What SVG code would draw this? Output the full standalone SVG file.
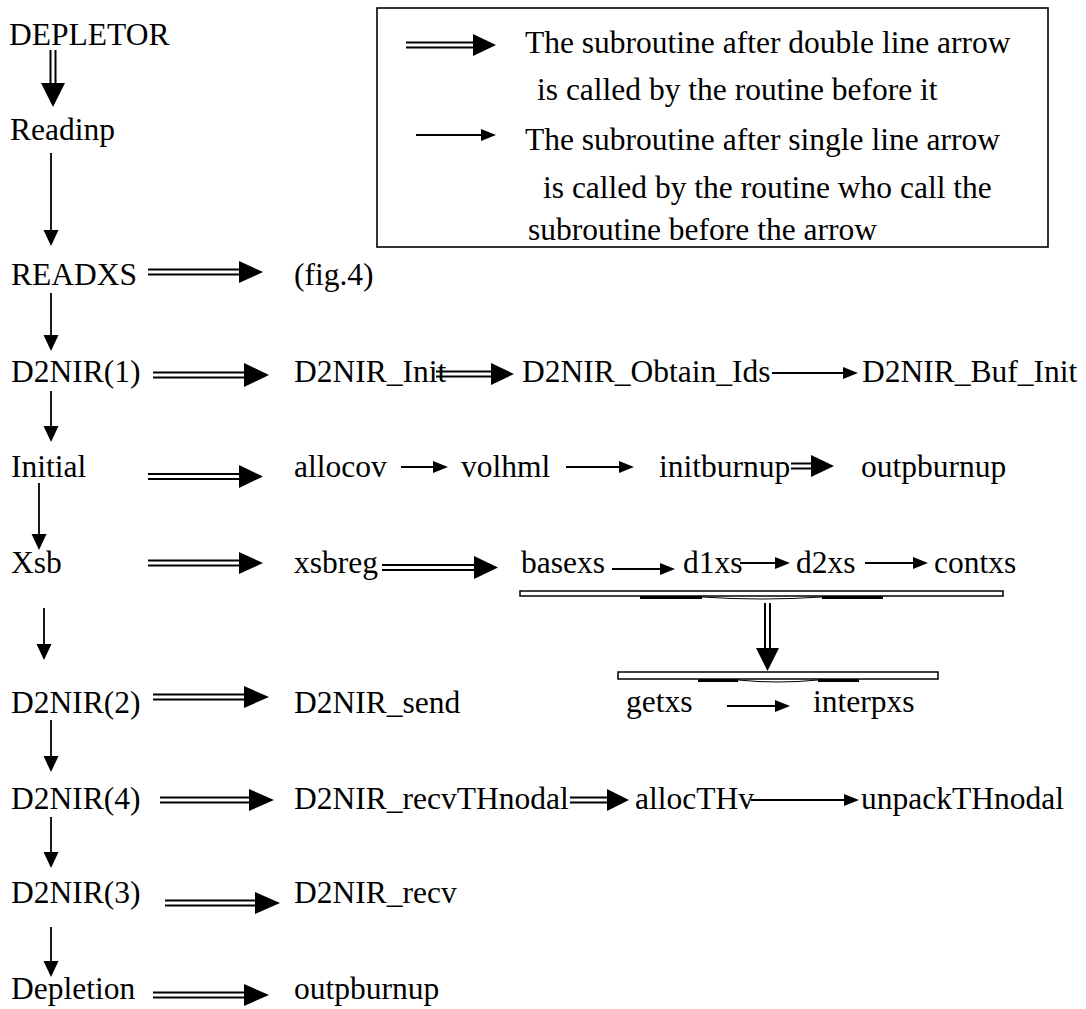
<svg xmlns="http://www.w3.org/2000/svg" width="1086" height="1009" viewBox="0 0 1086 1009">
<style>
text{font-family:"Liberation Serif","Times New Roman",serif;font-size:31.5px;fill:#000}
.dl{stroke:#000;stroke-width:2;fill:none}
.sl{stroke:#000;stroke-width:1.8;fill:none}
.hd{fill:#000;stroke:none}
.box{fill:none;stroke:#000;stroke-width:1.6}
.br{fill:#fff;stroke:#000;stroke-width:1.5}
.bt{fill:none;stroke:#000;stroke-width:3}
.bc{fill:none;stroke:#000;stroke-width:1}
</style>
<rect width="1086" height="1009" fill="#fff"/>
<g id="legend">
<rect class="box" x="377" y="8" width="671" height="239"/>
<path class="dl" d="M406 42.5H476M406 47.5H476"/><polygon class="hd" points="473,34 496,45 473,56"/>
<text x="525" y="53">The subroutine after double line arrow</text>
<text x="537" y="100">is called by the routine before it</text>
<path class="sl" d="M416 135H484"/><polygon class="hd" points="481,129 496,135 481,141"/>
<text x="525" y="150">The subroutine after single line arrow</text>
<text x="543" y="198">is called by the routine who call the</text>
<text x="528" y="240">subroutine before the arrow</text>
</g>
<g id="n-depletor"><text x="9" y="45">DEPLETOR</text></g>
<g id="n-readinp"><text x="10" y="140">Readinp</text></g>
<g id="n-readxs"><text x="11" y="285">READXS</text></g>
<g id="n-fig4"><text x="294" y="285">(fig.4)</text></g>
<g id="n-d2nir1"><text x="11" y="382">D2NIR(1)</text></g>
<g id="n-d2nirinit"><text x="294" y="382">D2NIR_Init</text></g>
<g id="n-obtain"><text x="522" y="382">D2NIR_Obtain_Ids</text></g>
<g id="n-bufinit"><text x="862" y="382">D2NIR_Buf_Init</text></g>
<g id="n-initial"><text x="11" y="477">Initial</text></g>
<g id="n-allocov"><text x="294" y="477">allocov</text></g>
<g id="n-volhml"><text x="461" y="477">volhml</text></g>
<g id="n-initburnup"><text x="659" y="477">initburnup</text></g>
<g id="n-outpburnup1"><text x="861" y="477">outpburnup</text></g>
<g id="n-xsb"><text x="11" y="573">Xsb</text></g>
<g id="n-xsbreg"><text x="294" y="573">xsbreg</text></g>
<g id="n-basexs"><text x="521" y="573">basexs</text></g>
<g id="n-d1xs"><text x="683" y="573">d1xs</text></g>
<g id="n-d2xs"><text x="796" y="573">d2xs</text></g>
<g id="n-contxs"><text x="934" y="573">contxs</text></g>
<g id="n-getxs"><text x="626" y="712">getxs</text></g>
<g id="n-interpxs"><text x="813" y="712">interpxs</text></g>
<g id="n-d2nir2"><text x="11" y="713">D2NIR(2)</text></g>
<g id="n-send"><text x="294" y="713">D2NIR_send</text></g>
<g id="n-d2nir4"><text x="11" y="809">D2NIR(4)</text></g>
<g id="n-recvth"><text x="294" y="809">D2NIR_recvTHnodal</text></g>
<g id="n-allocthv"><text x="635" y="809">allocTHv</text></g>
<g id="n-unpack"><text x="861" y="809">unpackTHnodal</text></g>
<g id="n-d2nir3"><text x="11" y="903">D2NIR(3)</text></g>
<g id="n-recv"><text x="294" y="903">D2NIR_recv</text></g>
<g id="n-depletion"><text x="11" y="999">Depletion</text></g>
<g id="n-outpburnup2"><text x="294" y="999">outpburnup</text></g>
<g id="connectors">
<!-- DEPLETOR => Readinp -->
<path class="dl" d="M50.5 50V85M55.5 50V85"/><polygon class="hd" points="41,83 53,107 65,83"/>
<!-- single vertical arrows -->
<path class="sl" d="M51 153V232"/><polygon class="hd" points="43.5,230 51,246 58.5,230"/>
<path class="sl" d="M51 293V337"/><polygon class="hd" points="43.5,335 51,351 58.5,335"/>
<path class="sl" d="M51 391V428"/><polygon class="hd" points="43.5,426 51,442 58.5,426"/>
<path class="sl" d="M39 483V536"/><polygon class="hd" points="31.5,534 39,550 46.5,534"/>
<path class="sl" d="M44 608V646"/><polygon class="hd" points="36.5,644 44,660 51.5,644"/>
<path class="sl" d="M51 720V758"/><polygon class="hd" points="43.5,756 51,772 58.5,756"/>
<path class="sl" d="M51 817V854"/><polygon class="hd" points="43.5,852 51,868 58.5,852"/>
<path class="sl" d="M51 927V963"/><polygon class="hd" points="43.5,961 51,977 58.5,961"/>
<!-- horizontal double arrows -->
<path class="dl" d="M148 269.5H242M148 274.5H242"/><polygon class="hd" points="239,261 263,272 239,283"/>
<path class="dl" d="M153 372.5H247M153 377.5H247"/><polygon class="hd" points="244,363 269,375 244,387"/>
<path class="dl" d="M436 371.5H494M436 376.5H494"/><polygon class="hd" points="491,363 514,374 491,385"/>
<path class="dl" d="M148 474H242M148 479H242"/><polygon class="hd" points="239,465 263,476.5 239,488"/>
<path class="dl" d="M791 463.5H814M791 468.5H814"/><polygon class="hd" points="811,455 834,466 811,477"/>
<path class="dl" d="M148 560.5H242M148 565.5H242"/><polygon class="hd" points="239,552 263,563 239,574"/>
<path class="dl" d="M382 565H477M382 570H477"/><polygon class="hd" points="474,556 498,567.5 474,579"/>
<path class="dl" d="M153 694.5H247M153 699.5H247"/><polygon class="hd" points="244,686 269,697 244,708"/>
<path class="dl" d="M160 797.5H252M160 802.5H252"/><polygon class="hd" points="249,789 274,800 249,811"/>
<path class="dl" d="M570 797.5H610M570 802.5H610"/><polygon class="hd" points="607,789 629,800 607,811"/>
<path class="dl" d="M165 900.5H258M165 905.5H258"/><polygon class="hd" points="255,892 280,903 255,914"/>
<path class="dl" d="M153 992.5H247M153 997.5H247"/><polygon class="hd" points="244,984 269,995 244,1006"/>
<!-- horizontal single arrows -->
<path class="sl" d="M772 373H846"/><polygon class="hd" points="843,367 858,373 843,379"/>
<path class="sl" d="M401 467H436"/><polygon class="hd" points="433,461 448,467 433,473"/>
<path class="sl" d="M566 467H622"/><polygon class="hd" points="619,461 634,467 619,473"/>
<path class="sl" d="M612 569H663"/><polygon class="hd" points="660,563 675,569 660,575"/>
<path class="sl" d="M740 563H778"/><polygon class="hd" points="775,557 790,563 775,569"/>
<path class="sl" d="M865 563H916"/><polygon class="hd" points="913,557 928,563 913,569"/>
<path class="sl" d="M727 706H778"/><polygon class="hd" points="775,700 790,706 775,712"/>
<path class="sl" d="M751 800H847"/><polygon class="hd" points="844,794 859,800 844,806"/>
<!-- brackets -->
<rect class="br" x="520" y="591" width="483" height="5"/>
<path class="bt" d="M640 597.5H702M822 597.5H883"/>
<path class="bc" d="M702 597Q762 601 822 597"/>
<path class="dl" d="M765 603V650M770 603V650"/><polygon class="hd" points="756,648 767.5,671 779,648"/>
<rect class="br" x="618" y="672" width="320" height="7"/>
<path class="bt" d="M698 680.5H738M818 680.5H859"/>
<path class="bc" d="M738 680Q778 684 818 680"/>
</g>
</svg>
